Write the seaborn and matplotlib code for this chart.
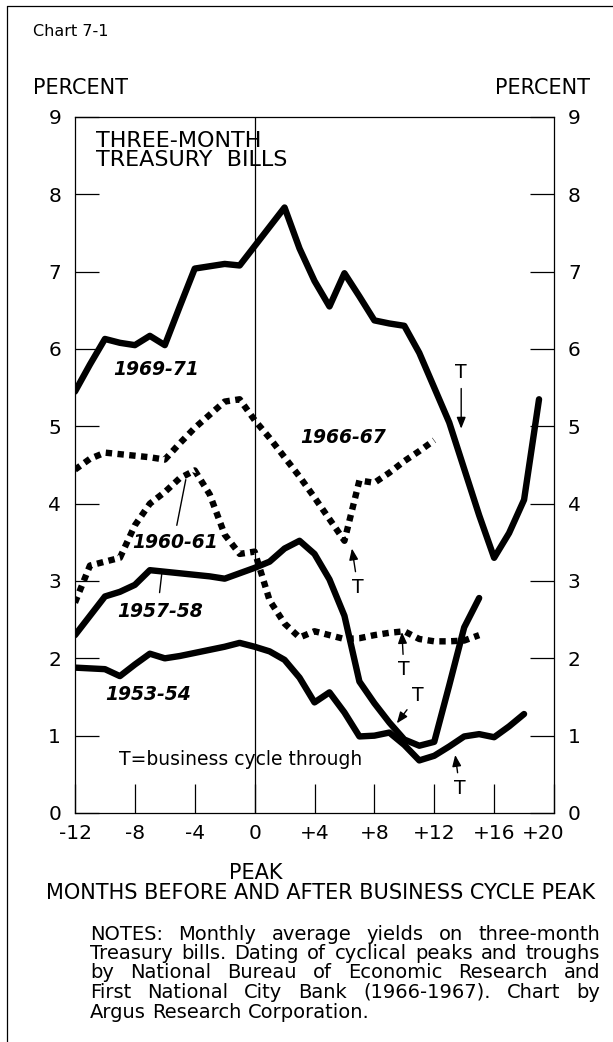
import matplotlib
matplotlib.use('Agg')
import numpy as np
import pandas as pd
import matplotlib.pyplot as plt
import matplotlib.transforms as mtransforms
import seaborn as sns

# %% values: three-month bill yield (percent) by month from cycle peak
months_6971 = list(range(-12, 20))
bills_6971 = [5.45, 5.80, 6.13, 6.08, 6.05, 6.17, 6.05, 6.55, 7.04, 7.07,
              7.10, 7.08, 7.33, 7.58, 7.83, 7.30, 6.88, 6.55, 6.98, 6.68,
              6.37, 6.33, 6.30, 5.95, 5.50, 5.05, 4.45, 3.85, 3.30, 3.62,
              4.05, 5.35]
months_6667 = list(range(-12, 13))
bills_6667 = [4.44, 4.58, 4.66, 4.64, 4.62, 4.60, 4.57, 4.78, 4.98, 5.15,
              5.32, 5.35, 5.08, 4.85, 4.60, 4.35, 4.08, 3.80, 3.52, 4.30,
              4.27, 4.40, 4.55, 4.68, 4.82]
months_6061 = list(range(-12, 16))
bills_6061 = [2.72, 3.20, 3.25, 3.30, 3.72, 4.00, 4.15, 4.33, 4.43, 4.12,
              3.60, 3.35, 3.38, 2.75, 2.45, 2.27, 2.35, 2.30, 2.25, 2.26,
              2.30, 2.33, 2.35, 2.25, 2.22, 2.22, 2.23, 2.30]
months_5758 = list(range(-12, 16))
bills_5758 = [2.30, 2.55, 2.80, 2.86, 2.95, 3.14, 3.12, 3.10, 3.08, 3.06,
              3.03, 3.10, 3.17, 3.25, 3.42, 3.52, 3.35, 3.02, 2.55, 1.70,
              1.42, 1.17, 0.95, 0.87, 0.92, 1.65, 2.40, 2.78]
months_5354 = list(range(-12, 19))
bills_5354 = [1.88, 1.87, 1.86, 1.77, 1.92, 2.06, 2.00, 2.03, 2.07, 2.11,
              2.15, 2.20, 2.15, 2.09, 1.98, 1.75, 1.43, 1.56, 1.30, 0.99,
              1.00, 1.04, 0.88, 0.68, 0.74, 0.86, 0.99, 1.02, 0.98, 1.12,
              1.28]

cycles = ['1969-71', '1966-67', '1960-61', '1957-58', '1953-54']
dotted = ['1966-67', '1960-61']

x_ticks = [-12, -8, -4, 0, 4, 8, 12, 16, 20]
x_tick_labels = ['-12', '-8', '-4', '0', '+4', '+8', '+12', '+16', '+20']
y_ticks = list(range(0, 10))

df = pd.concat([
    pd.DataFrame({'month': months_6971, 'bills': bills_6971, 'cycle': '1969-71'}),
    pd.DataFrame({'month': months_6667, 'bills': bills_6667, 'cycle': '1966-67'}),
    pd.DataFrame({'month': months_6061, 'bills': bills_6061, 'cycle': '1960-61'}),
    pd.DataFrame({'month': months_5758, 'bills': bills_5758, 'cycle': '1957-58'}),
    pd.DataFrame({'month': months_5354, 'bills': bills_5354, 'cycle': '1953-54'}),
], ignore_index=True)

# %%
sns.set_style('ticks', {'axes.edgecolor': 'black', 'text.color': 'black',
                        'xtick.color': 'black', 'ytick.color': 'black'})
plt.rcParams['font.family'] = ['DejaVu Sans']

W, H = 613, 1042
fig = plt.figure(figsize=(W / 100, H / 100), dpi=100)
# axes box in pixels: left 75, right 554, top 117, bottom 813
ax = fig.add_axes([75 / W, 1 - 813 / H, (554 - 75) / W, (813 - 117) / H])

sns.lineplot(data=df, x='month', y='bills', hue='cycle', style='cycle',
             palette={c: 'black' for c in cycles},
             dashes={c: ((1, 0.85) if c in dotted else '') for c in cycles},
             estimator=None, lw=4.6, legend=False, ax=ax)

ax.axvline(0, color='black', lw=0.9)
ax.set_xlim(-12, 20)
ax.set_ylim(0, 9)
ax.set_xlabel('')
ax.set_ylabel('')

ax.set_xticks(x_ticks)
ax.set_xticklabels(x_tick_labels, fontsize=14.5)
ax.set_yticks(y_ticks)
ax.set_yticklabels([str(v) for v in y_ticks], fontsize=14.5)
ax.tick_params(axis='x', direction='in', length=21, width=0.9, pad=8)
ax.tick_params(axis='y', direction='in', length=17, width=0.9, pad=10,
               left=True, right=True, labelleft=True, labelright=True)
lab = ax.get_xticklabels()[-1]
lab.set_ha('right')
lab.set_transform(lab.get_transform() +
                  mtransforms.ScaledTranslation(10 / 100, 0, fig.dpi_scale_trans))
for s in ax.spines.values():
    s.set_linewidth(0.9)
    s.set_visible(True)

# %% labels inside the chart
ax.text(-10.6, 8.82, 'THREE-MONTH\nTREASURY  BILLS', fontsize=16, va='top',
        linespacing=0.92)
lbl = dict(fontsize=13.5, fontstyle='italic', fontweight='bold', ha='center', va='center')
ax.text(-6.6, 5.73, '1969-71', **lbl)
ax.text(5.9, 4.85, '1966-67', **lbl)
ax.text(-5.3, 3.5, '1960-61', **lbl)
ax.text(-6.35, 2.6, '1957-58', **lbl)
ax.text(-7.1, 1.53, '1953-54', **lbl)
ax.plot([-4.6, -5.2], [4.31, 3.72], color='black', lw=1)
ax.plot([-6.2, -6.35], [3.1, 2.85], color='black', lw=1)
ax.text(-9.07, 0.69, 'T=business cycle through', fontsize=13.5, va='center')

arrow = dict(arrowstyle='-|>,head_length=0.5,head_width=0.2', color='black',
             lw=1, shrinkA=2, shrinkB=0)
tkw = dict(fontsize=13.5, ha='center', va='center')
ax.annotate('T', xy=(13.8, 4.97), xytext=(13.8, 5.69), arrowprops=arrow, **tkw)
ax.annotate('T', xy=(6.5, 3.42), xytext=(6.9, 2.92), arrowprops=arrow, **tkw)
ax.annotate('T', xy=(9.84, 2.34), xytext=(9.97, 1.85), arrowprops=arrow, **tkw)
ax.annotate('T', xy=(9.5, 1.16), xytext=(10.9, 1.52), arrowprops=arrow, **tkw)
ax.annotate('T', xy=(13.4, 0.75), xytext=(13.7, 0.32), arrowprops=arrow, **tkw)

# %% page texts
def fy(y):
    return 1 - y / H

fig.text(33 / W, fy(31), 'Chart 7-1', fontsize=11.5, va='center')
fig.text(33 / W, fy(88), 'PERCENT', fontsize=15, va='center')
fig.text(590 / W, fy(88), 'PERCENT', fontsize=15, va='center', ha='right')
fig.text(256 / W, fy(873), 'PEAK', fontsize=15, va='center', ha='center')
fig.text(321 / W, fy(893), 'MONTHS BEFORE AND AFTER BUSINESS CYCLE PEAK',
         fontsize=15, va='center', ha='center')

notes = ['NOTES: Monthly average yields on three-month',
         'Treasury bills. Dating of cyclical peaks and troughs',
         'by National Bureau of Economic Research and',
         'First National City Bank (1966-1967). Chart by',
         'Argus Research Corporation.']
renderer = fig.canvas.get_renderer()
x0, x1 = 90, 600
for i, line in enumerate(notes):
    y = fy(934 + 19.5 * i)
    words = line.split(' ')
    texts = [fig.text(0, y, w, fontsize=14, va='center') for w in words]
    widths = [t.get_window_extent(renderer).width for t in texts]
    if i < len(notes) - 1:
        gap = (x1 - x0 - sum(widths)) / (len(words) - 1)
    else:
        gap = texts[0].get_fontsize() * 0.45
    x = x0
    for t, w in zip(texts, widths):
        t.set_x(x / W)
        x += w + gap

# frame edges of the page
fig.add_artist(plt.Line2D([7 / W, 7 / W], [0, fy(6)], color='black', lw=0.9))
fig.add_artist(plt.Line2D([7 / W, 1], [fy(6), fy(6)], color='black', lw=0.9))

fig.savefig('out.png', dpi=100)
